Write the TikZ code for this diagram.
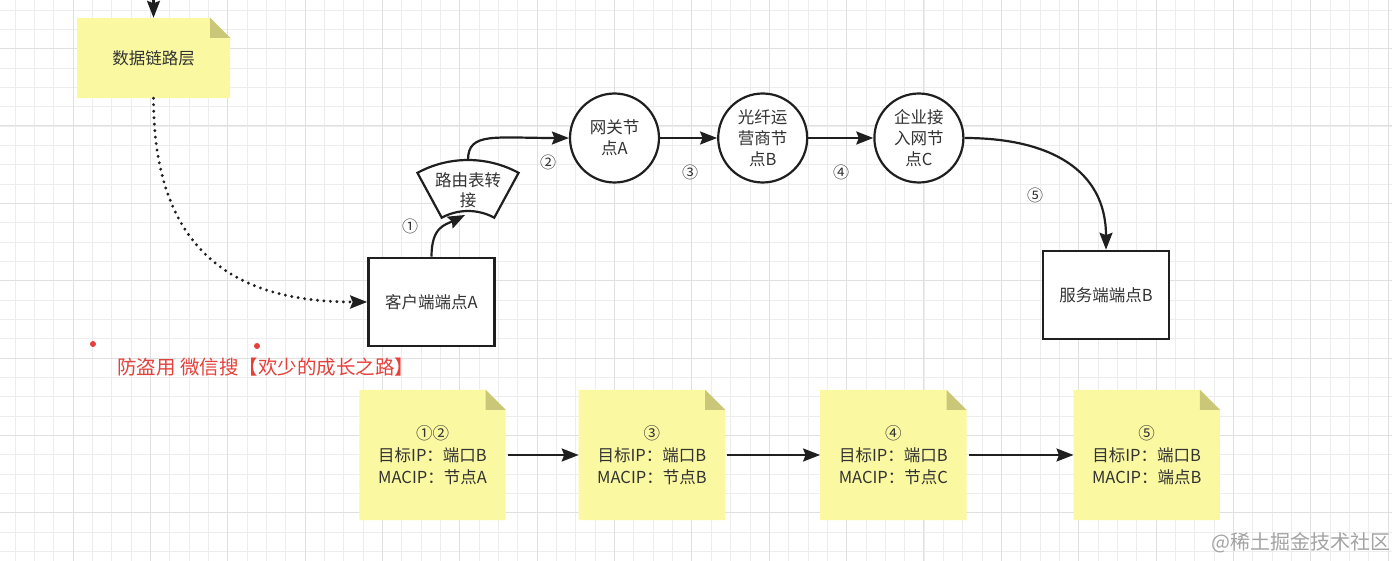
\documentclass[tikz,border=0pt]{standalone}
\usepackage{fontspec}
\setmainfont{Noto Sans CJK SC}
\usepackage{tikz}
\usetikzlibrary{arrows.meta,positioning,calc,backgrounds}
\definecolor{ink}{HTML}{1F1F1F}
\definecolor{textgrey}{HTML}{333333}
\definecolor{noteyellow}{HTML}{FAF8A0}
\definecolor{notefold}{HTML}{CAC778}
\definecolor{gridminor}{HTML}{EDEDED}
\definecolor{gridmajor}{HTML}{E0E0E0}
\definecolor{markred}{HTML}{E5413B}
\definecolor{markgrey}{HTML}{A3A3A3}
\tikzset{
  dnote/.style={minimum width=146pt, minimum height=130pt, inner sep=0pt, align=center, font=\fontsize{16.5}{22}\selectfont, text=textgrey},
  dcircle/.style={circle, draw=ink, fill=white, line width=2.2pt, minimum size=89pt, inner sep=0pt, align=center, font=\fontsize{16.5}{21}\selectfont, text=textgrey},
  dbox/.style={draw=ink, fill=white, line width=2.6pt, minimum width=126pt, minimum height=88pt, font=\fontsize{16.5}{21}\selectfont, text=textgrey},
  darrow/.style={-{Stealth[length=17pt, width=13pt, inset=2.5pt]}, line width=2.2pt, ink},
  ddotted/.style={darrow, line width=3.2pt, dash pattern=on 0pt off 6.5pt, line cap=round},
  dlabel/.style={font=\fontsize{16}{18}\selectfont, text=textgrey},
  dmark/.style={circle, fill=markred, minimum size=6pt, inner sep=0pt},
}
\newcommand{\stickyfold}[1]{%
  \fill[noteyellow] (#1.north west) -- ([xshift=-20pt]#1.north east) -- ([yshift=-20pt]#1.north east) -- (#1.south east) -- (#1.south west) -- cycle;
  \fill[notefold] ([xshift=-20pt]#1.north east) -- ([xshift=-20pt,yshift=-20pt]#1.north east) -- ([yshift=-20pt]#1.north east) -- cycle;}

\begin{document}
\begin{tikzpicture}[x=1pt, y=-1pt]
  \useasboundingbox (0,0) rectangle (1400,561);
  % paper grid
  \begin{scope}[on background layer]
    \fill[white] (0,0) rectangle (1400,561);
    \foreach \i in {0,...,71} \draw[gridminor, line width=0.8pt] ({14.98+19.34*\i},0) -- ++(0,561);
    \foreach \i in {0,...,28} \draw[gridminor, line width=0.8pt] (0,{9.96+19.34*\i}) -- ++(1392,0);
    \foreach \i in {0,...,17} \draw[gridmajor, line width=1pt] ({73+77.36*\i},0) -- ++(0,561);
    \foreach \i in {0,...,6} \draw[gridmajor, line width=1pt] (0,{48.64+77.36*\i}) -- ++(1392,0);
  \end{scope}
  % top: link layer note
  \node[dnote, minimum width=153pt, minimum height=80pt] (dll) at (153.5,58) {数据链路层};
  \coordinate (feed) at (153.5,-2);
  % client side
  \node[dbox] (cla) at (431.5,302) {客户端端点A};
  \node[align=center, inner sep=0pt, font=\fontsize{16.5}{20}\selectfont, text=textgrey] (rt) at (468,190) {路由表转\\接};
  \coordinate (rtin) at ($(rt)+(-3,25)$);
  \coordinate (rtout) at ($(rt)+(0,-30)$);
  % hops
  \node[dcircle] (gwa) at (614.5,138) {网关节\\点A};
  \node[dcircle, right=57pt of gwa] (ispb) {光纤运\\营商节\\点B};
  \node[dcircle, right=65pt of ispb] (entc) {企业接\\入网节\\点C};
  \node[dbox] (srvb) at (1106,295) {服务端端点B};
  % packets
  \node[dnote] (pk1) at (432.5,455) {①②\\目标IP：端口B\\MACIP：节点A};
  \node[dnote, right=73pt of pk1] (pk2) {③\\目标IP：端口B\\MACIP：节点B};
  \node[dnote, right=95pt of pk2] (pk3) {④\\目标IP：端口B\\MACIP：节点C};
  \node[dnote, right=107pt of pk3] (pk4) {⑤\\目标IP：端口B\\MACIP：端点B};
  % hop numbers
  \node[dlabel] (n1) at (410,226) {①};
  \node[dlabel] (n2) at (548,162) {②};
  \node[dlabel] (n3) at (690,172) {③};
  \node[dlabel] (n4) at (841,172) {④};
  \node[dlabel] (n5) at (1035,195) {⑤};
  % watermarks
  \node[dmark] (mk1) at (93,344) {};
  \node[dmark] (mk2) at (257,346) {};
  \node[anchor=west, inner sep=0pt, font=\fontsize{19.5}{22}\selectfont, text=markred] (wm) at (117,367) {防盗用 微信搜【欢少的成长之路】};
  \node[anchor=east, inner sep=0pt, font=\fontsize{20}{22}\selectfont, text=markgrey] (site) at (1391,543) {@稀土掘金技术社区};
  % note bodies and the route table fan
  \begin{scope}[on background layer]
    \foreach \n in {dll,pk1,pk2,pk3,pk4} {\stickyfold{\n}}
    \draw[ink, line width=2.2pt, fill=white] ($(rt)+(0,76)$) ++(-118.5:106) arc[start angle=-118.5, end angle=-61.5, radius=106]
      -- ($(rt)+(0,76)+(-61.5:55)$) arc[start angle=-61.5, end angle=-118.5, radius=55] -- cycle;
  \end{scope}
  % arrows
  \draw[darrow] (feed) -- (dll.north);
  \draw[ddotted] (dll.south) .. controls +(0,160) and +(-125,0) .. (cla.west);
  \draw[darrow] (cla.north) .. controls +(0,-30) and +(-20,10) .. (rtin);
  \draw[darrow] (rtout) .. controls +(0,-28) and +(-75,0) .. (gwa.west);
  \draw[darrow] (gwa.east) -- (ispb.west);
  \draw[darrow] (ispb.east) -- (entc.west);
  \draw[darrow] (entc.east) .. controls +(85,0) and +(0,-80) .. (srvb.north);
  \draw[darrow, shorten <=2pt] (pk1.east) -- (pk2.west);
  \draw[darrow, shorten <=2pt] (pk2.east) -- (pk3.west);
  \draw[darrow, shorten <=2pt] (pk3.east) -- (pk4.west);
\end{tikzpicture}
\end{document}
